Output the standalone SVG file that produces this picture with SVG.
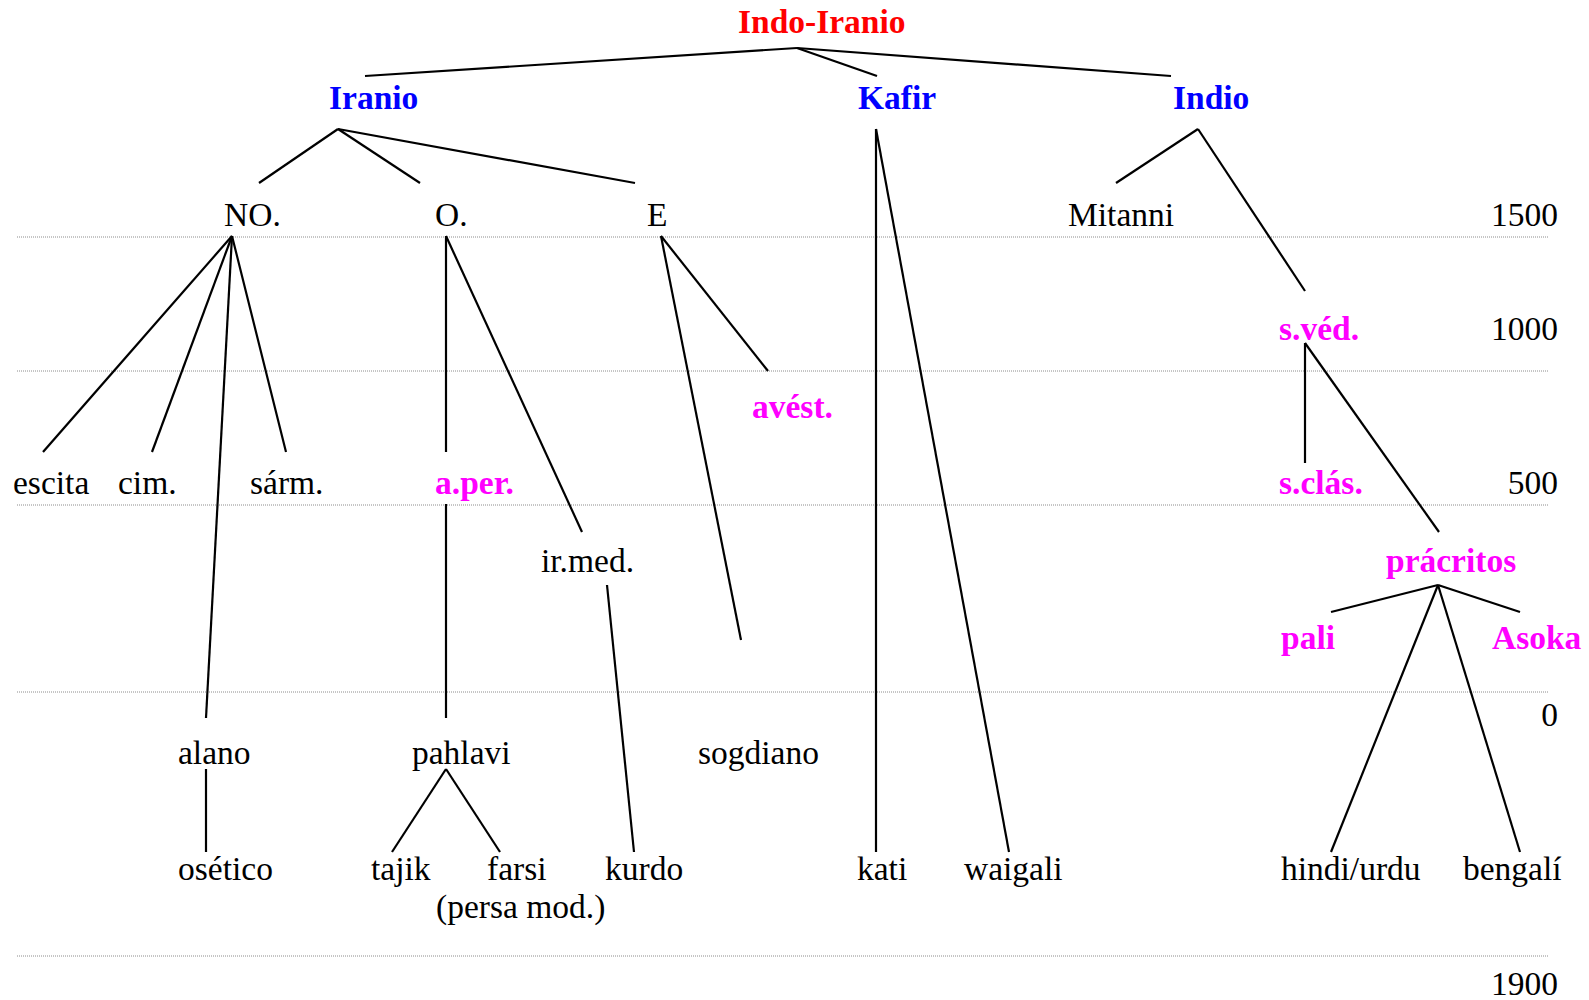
<svg xmlns="http://www.w3.org/2000/svg" width="1589" height="1000" viewBox="0 0 1589 1000">
<style>
text{font-family:"Liberation Serif","Times New Roman",serif;font-size:33.5px;fill:#000}
.b{font-weight:bold}
.red{fill:#ff0000}
.blue{fill:#0000ff}
.mag{fill:#ff00ff}
.num{text-anchor:end}
.grid line{stroke:#8c8c8c;stroke-width:1;stroke-dasharray:1 1}
.edges line{stroke:#000;stroke-width:2.2;stroke-linecap:butt}
</style>
<rect width="1589" height="1000" fill="#fff"/>
<g class="grid">
<line x1="17" y1="237" x2="1548" y2="237"/>
<line x1="17" y1="371" x2="1548" y2="371"/>
<line x1="17" y1="505" x2="1548" y2="505"/>
<line x1="17" y1="692" x2="1548" y2="692"/>
<line x1="17" y1="956" x2="1548" y2="956"/>
</g>
<g id="scale">
<text class="num" x="1558" y="226">1500</text>
<text class="num" x="1558" y="340">1000</text>
<text class="num" x="1558" y="494">500</text>
<text class="num" x="1558" y="726">0</text>
<text class="num" x="1558" y="995">1900</text>
</g>
<g class="edges">
<line x1="797" y1="48" x2="365" y2="76"/>
<line x1="797" y1="48" x2="877" y2="76"/>
<line x1="797" y1="48" x2="1171" y2="76"/>
<line x1="338" y1="129" x2="259" y2="183"/>
<line x1="338" y1="129" x2="420" y2="183"/>
<line x1="338" y1="129" x2="635" y2="183"/>
<line x1="876" y1="129" x2="876" y2="852"/>
<line x1="876" y1="129" x2="1009" y2="852"/>
<line x1="1198" y1="129" x2="1116" y2="183"/>
<line x1="1198" y1="129" x2="1305" y2="291"/>
<line x1="1305" y1="343" x2="1305" y2="463"/>
<line x1="1305" y1="343" x2="1439" y2="532"/>
<line x1="1438" y1="585" x2="1331" y2="612"/>
<line x1="1438" y1="585" x2="1520" y2="612"/>
<line x1="1438" y1="585" x2="1331" y2="852"/>
<line x1="1438" y1="585" x2="1520" y2="852"/>
<line x1="232" y1="236" x2="43" y2="452"/>
<line x1="232" y1="236" x2="152" y2="452"/>
<line x1="232" y1="236" x2="286" y2="452"/>
<line x1="232" y1="236" x2="206" y2="718"/>
<line x1="446" y1="236" x2="446" y2="452"/>
<line x1="446" y1="236" x2="582" y2="532"/>
<line x1="446" y1="504" x2="446" y2="718"/>
<line x1="661" y1="236" x2="768" y2="371"/>
<line x1="661" y1="236" x2="741" y2="640"/>
<line x1="607" y1="585" x2="634" y2="852"/>
<line x1="206" y1="769" x2="206" y2="852"/>
<line x1="446" y1="769" x2="392" y2="852"/>
<line x1="446" y1="769" x2="500" y2="852"/>
</g>
<g id="n-indoiranio"><text class="b red" x="738" y="33">Indo-Iranio</text></g>
<g id="n-iranio"><text class="b blue" x="329" y="109">Iranio</text></g>
<g id="n-kafir"><text class="b blue" x="858" y="109">Kafir</text></g>
<g id="n-indio"><text class="b blue" x="1173" y="109">Indio</text></g>
<g id="n-no"><text x="224" y="226">NO.</text></g>
<g id="n-o"><text x="435" y="226">O.</text></g>
<g id="n-e"><text x="647" y="226">E</text></g>
<g id="n-mitanni"><text x="1068" y="226">Mitanni</text></g>
<g id="n-sved"><text class="b mag" x="1279" y="340">s.véd.</text></g>
<g id="n-avest"><text class="b mag" x="752" y="418">avést.</text></g>
<g id="n-escita"><text x="13" y="494">escita</text></g>
<g id="n-cim"><text x="118" y="494">cim.</text></g>
<g id="n-sarm"><text x="250" y="494">sárm.</text></g>
<g id="n-aper"><text class="b mag" x="435" y="494">a.per.</text></g>
<g id="n-sclas"><text class="b mag" x="1279" y="494">s.clás.</text></g>
<g id="n-irmed"><text x="541" y="572">ir.med.</text></g>
<g id="n-pracritos"><text class="b mag" x="1386" y="572">prácritos</text></g>
<g id="n-pali"><text class="b mag" x="1281" y="649">pali</text></g>
<g id="n-asoka"><text class="b mag" x="1492" y="649">Asoka</text></g>
<g id="n-alano"><text x="178" y="764">alano</text></g>
<g id="n-pahlavi"><text x="412" y="764">pahlavi</text></g>
<g id="n-sogdiano"><text x="698" y="764">sogdiano</text></g>
<g id="n-osetico"><text x="178" y="880">osético</text></g>
<g id="n-tajik"><text x="371" y="880">tajik</text></g>
<g id="n-farsi"><text x="487" y="880">farsi</text><text x="436" y="918">(persa mod.)</text></g>
<g id="n-kurdo"><text x="605" y="880">kurdo</text></g>
<g id="n-kati"><text x="857" y="880">kati</text></g>
<g id="n-waigali"><text x="964" y="880">waigali</text></g>
<g id="n-hindi"><text x="1281" y="880">hindi/urdu</text></g>
<g id="n-bengali"><text x="1463" y="880">bengalí</text></g>
</svg>
